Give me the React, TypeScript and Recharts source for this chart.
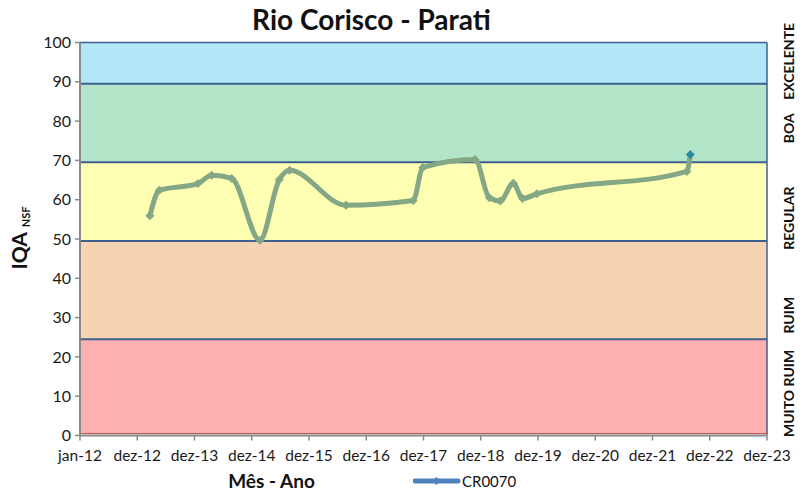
import React from "react"
import {
  LineChart,
  Line,
  XAxis,
  YAxis,
  ReferenceArea,
  ReferenceLine,
} from "recharts"

// time in years since jan-12 and IQA values
const sampleTime = [1.22, 1.385, 2.06, 2.3, 2.65, 3.144, 3.48, 3.66, 4.646, 5.82, 5.99, 6.9, 7.15, 7.34, 7.57, 7.73, 7.98, 10.6, 10.66]
const iqaValues = [55.9, 62.4, 64.1, 66.2, 65.4, 49.7, 65.1, 67.5, 58.6, 59.8, 68.2, 70.2, 60.5, 59.7, 64.2, 60.3, 61.5, 67.2, 71.5]

const xTicks = [0, 1, 2, 3, 4, 5, 6, 7, 8, 9, 10, 11, 12]
const xTickLabels = ["jan-12", "dez-12", "dez-13", "dez-14", "dez-15", "dez-16", "dez-17", "dez-18", "dez-19", "dez-20", "dez-21", "dez-22", "dez-23"]
const yTicks = [0, 10, 20, 30, 40, 50, 60, 70, 80, 90, 100]

const bandLow = [0.5, 24.5, 49.5, 69.5, 89.5]
const bandHigh = [24.5, 49.5, 69.5, 89.5, 100]
const bandFill = ["#ffb0b0", "#f5d3b3", "#ffffb3", "#b3e6c8", "#b3e6f7"]
const bandNames = ["MUITO RUIM", "RUIM", "REGULAR", "BOA", "EXCELENTE"]
const bandNamePos = [10.7, 30.6, 55.3, 78.2, 95.2]

const data = sampleTime.map((t, i) => ({ t, iqa: iqaValues[i] }))

const FONT = "Lato, 'Liberation Sans', sans-serif"
const LINE_COLOR = "#84a785"

const Diamond = (props: any) => {
  const { cx, cy, index } = props
  if (cx == null || cy == null) return null
  const s = 4.5
  const last = index === data.length - 1
  return (
    <path
      key={`d-${index}`}
      d={`M${cx},${cy - s} L${cx + s},${cy} L${cx},${cy + s} L${cx - s},${cy} Z`}
      fill={last ? "#2e8b9b" : LINE_COLOR}
    />
  )
}

const bandLabel = (name: string) => (props: any) => {
  const vb = props.viewBox || {}
  const tx = vb.x + vb.width + 27
  const ty = vb.y
  return (
    <text
      transform={`translate(${tx}, ${ty}) rotate(-90)`}
      textAnchor="middle"
      fontFamily={FONT}
      fontWeight="bold"
      fontSize={14}
      fill="#111"
    >
      {name}
    </text>
  )
}

const YTitle = () => (
  <text transform="translate(27, 238) rotate(-90)" textAnchor="middle" fontFamily={FONT} fill="#111">
    <tspan fontSize={21} fontWeight="bold">IQA</tspan>
    <tspan fontSize={11} fontWeight="bold" dx={5} dy={3}>NSF</tspan>
  </text>
)

export default function App() {
  return (
    <div style={{ position: "absolute", left: 0, top: 0, width: 800, height: 492, background: "#fff", fontFamily: FONT }}>
      <div
        style={{
          position: "absolute",
          left: 0,
          width: 743,
          top: 2,
          textAlign: "center",
          fontSize: 28,
          fontWeight: "bold",
          color: "#111",
        }}
      >
        Rio Corisco - Parati
      </div>
      <LineChart width={800} height={492} data={data} margin={{ top: 42.5, right: 0, left: 0, bottom: 26.5 }}>
        {bandLow.map((lo, i) => (
          <ReferenceArea
            key={`band-${i}`}
            yAxisId="left"
            y1={lo}
            y2={bandHigh[i]}
            fill={bandFill[i]}
            fillOpacity={1}
            stroke="none"
          />
        ))}
        {bandLow.slice(1).map((v) => (
          <ReferenceLine key={`bl-${v}`} yAxisId="left" y={v} stroke="#3f5f8f" strokeWidth={2} />
        ))}
        <ReferenceLine yAxisId="left" y={100} stroke="#3f5f8f" strokeWidth={1.5} />
        <ReferenceLine yAxisId="left" x={12} stroke="#3f5f8f" strokeWidth={1.5} />
        <ReferenceLine yAxisId="left" y={0.5} stroke="#c05050" strokeWidth={1} />
        {bandNamePos.map((p, i) => (
          <ReferenceLine
            key={`bn-${i}`}
            yAxisId="left"
            y={p}
            stroke="none"
            label={{ content: bandLabel(bandNames[i]) }}
          />
        ))}
        <XAxis
          dataKey="t"
          type="number"
          domain={[0, 12]}
          ticks={xTicks}
          interval={0}
          tickFormatter={(v: number) => xTickLabels[v]}
          height={30}
          tickSize={5}
          tickMargin={9}
          axisLine={{ stroke: "#8a8a8a", strokeWidth: 2 }}
          tickLine={{ stroke: "#8a8a8a", strokeWidth: 1.5 }}
          tick={{ fill: "#1a1a1a", fontSize: 15.5, fontFamily: FONT }}
          label={{
            value: "Mês - Ano",
            position: "insideBottom",
            offset: -22,
            dx: -152,
            style: { fontFamily: FONT, fontWeight: "bold", fontSize: 19, fill: "#111" },
          }}
        />
        <YAxis
          yAxisId="left"
          width={80}
          domain={[0, 100]}
          ticks={yTicks}
          interval={0}
          tickSize={5}
          tickMargin={4}
          axisLine={{ stroke: "#8a8a8a", strokeWidth: 2 }}
          tickLine={{ stroke: "#8a8a8a", strokeWidth: 1.5 }}
          tick={{ fill: "#1a1a1a", fontSize: 16, fontFamily: FONT }}
          label={{ content: () => <YTitle /> }}
        />
        <YAxis yAxisId="right" orientation="right" width={33} domain={[0, 100]} hide={false} axisLine={false} tickLine={false} tick={false} />
        <Line
          yAxisId="left"
          dataKey="iqa"
          type="monotone"
          stroke={LINE_COLOR}
          strokeWidth={5}
          dot={<Diamond />}
          activeDot={false}
          isAnimationActive={false}
        />
      </LineChart>
      <div style={{ position: "absolute", left: 413, top: 472, display: "flex", alignItems: "center" }}>
        <svg width={48} height={18}>
          <line x1={2} y1={9} x2={45} y2={9} stroke="#4f81bd" strokeWidth={5} strokeLinecap="round" />
          <path d="M23.5,5 L27.5,9 L23.5,13 L19.5,9 Z" fill="#4f81bd" />
        </svg>
        <span style={{ fontSize: 15, color: "#111", marginLeft: 1 }}>CR0070</span>
      </div>
    </div>
  )
}
